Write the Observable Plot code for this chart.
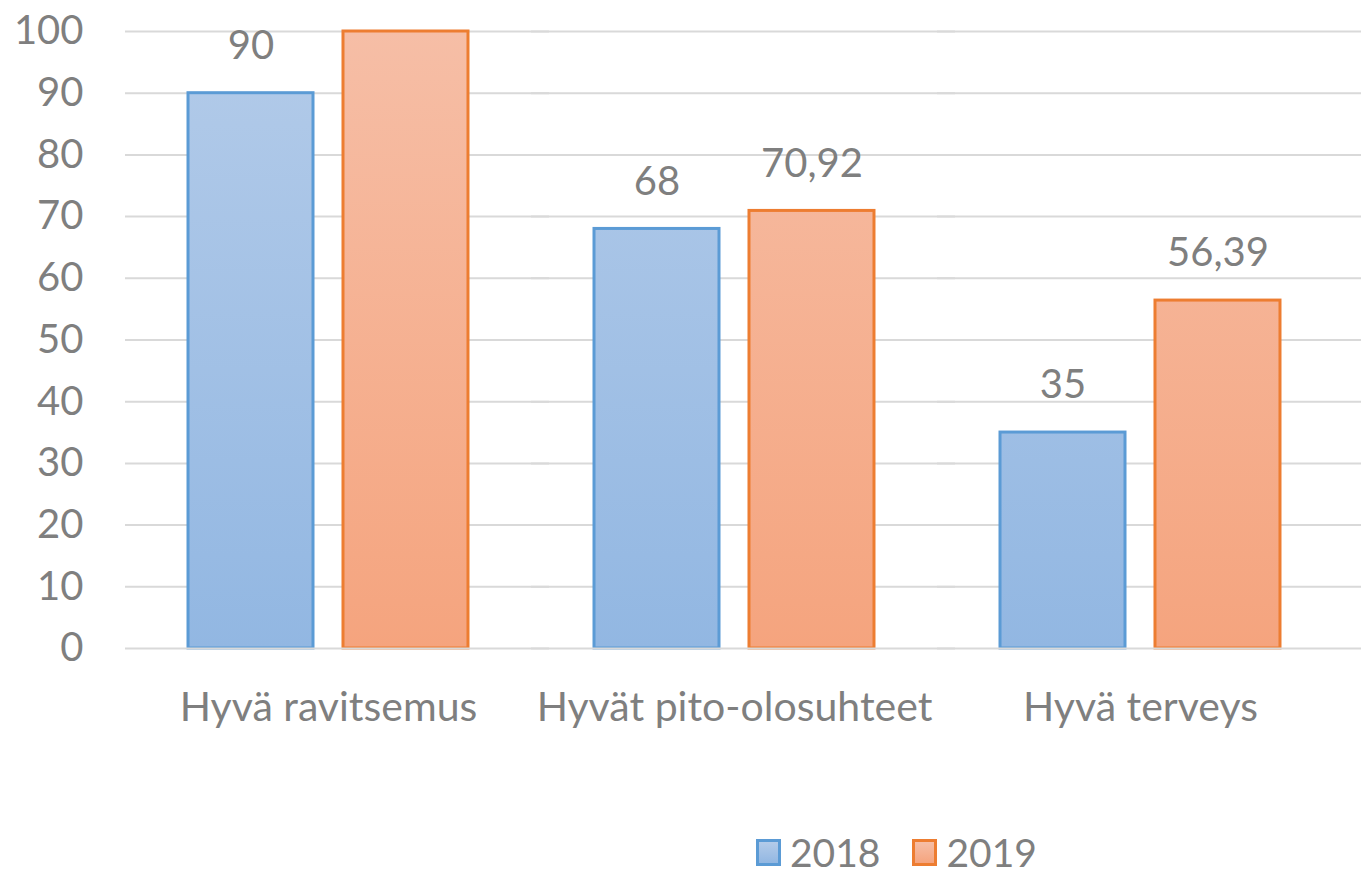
<!DOCTYPE html>
<html>
<head>
<meta charset="utf-8">
<script src="https://cdn.jsdelivr.net/npm/d3@7"></script>
<script src="https://cdn.jsdelivr.net/npm/@observablehq/plot@0.6"></script>
<style>
  html, body { margin: 0; padding: 0; background: white; }
  #wrap { position: relative; width: 1365px; height: 880px; overflow: hidden; }
  #legend { position: absolute; left: 756px; top: 832px; display: flex; align-items: center;
    font-family: Lato, "Open Sans", sans-serif; font-size: 39px; color: #7f7f7f; line-height: 40px; height: 40px; }
  .sw { width: 19px; height: 21px; border: 3px solid; margin-right: 9px; }
  .item { display: flex; align-items: center; margin-right: 32px; }
</style>
</head>
<body>
<div id="wrap"></div>
<script>
const categories = ["Hyvä ravitsemus", "Hyvät pito-olosuhteet", "Hyvä terveys"];
const years = ["2018", "2019"];
const values2018 = [90, 68, 35];
const values2019 = [100, 70.92, 56.39];
const yTicks = [0, 10, 20, 30, 40, 50, 60, 70, 80, 90, 100];

const colors = {
  "2018": {stroke: "#5b9bd5", top: "#b3cbe9", bottom: "#92b7e2"},
  "2019": {stroke: "#ed7d31", top: "#f6bea6", bottom: "#f5a47e"}
};

const data = [];
categories.forEach((c, i) => {
  data.push({category: c, year: "2018", value: values2018[i]});
  data.push({category: c, year: "2019", value: values2019[i]});
});

const fmt = v => String(v).replace(".", ",");

const defs = () => {
  const d = d3.create("svg:defs");
  years.forEach(y => {
    const g = d.append("linearGradient").attr("id", "g" + y)
      .attr("x1", 0).attr("x2", 0)
      .attr("gradientUnits", "userSpaceOnUse")
      .attr("y1", 31).attr("y2", 648);
    g.append("stop").attr("offset", "0%").attr("stop-color", colors[y].top);
    g.append("stop").attr("offset", "100%").attr("stop-color", colors[y].bottom);
  });
  return d.node();
};

// In the source chart the label of the bar at the top of the axis is clipped away
const yMax = yTicks[yTicks.length - 1];

const chart = Plot.plot({
  width: 1365,
  height: 820,
  marginLeft: 124,
  marginRight: 21,
  marginTop: 31,
  marginBottom: 172,
  style: {fontFamily: "Lato, 'Open Sans', sans-serif", fontSize: "41px", color: "#7f7f7f", overflow: "hidden", background: "white"},
  fx: {domain: categories, padding: 0, axis: "bottom", tickSize: 0, tickPadding: 43, label: null},
  x: {domain: years, axis: null, paddingInner: 0.1935, paddingOuter: 0.4065, round: false},
  y: {domain: [0, yMax], axis: null},
  marks: [
    defs,
    Plot.ruleY(yTicks.filter(t => t > 0), {stroke: "#d9d9d9", strokeWidth: 2, insetRight: -18}),
    Plot.axisY({ticks: yTicks, tickSize: 0, tickPadding: 42, textAnchor: "end", fontSize: 40, fill: "#7f7f7f", label: null, facetAnchor: "left"}),
    ...years.map(y => Plot.barY(data.filter(d => d.year === y), {
      fx: "category", x: "year", y: "value",
      fill: `url(#g${y})`, stroke: colors[y].stroke, strokeWidth: 3
    })),
    Plot.ruleY([0], {stroke: "#d9d9d9", strokeWidth: 2, insetRight: -18}),
    Plot.text(data.filter(d => d.value < yMax), {fx: "category", x: "year", y: "value", text: d => fmt(d.value), dy: -47, fill: "#7f7f7f", fontSize: 40})
  ]
});

const wrap = document.getElementById("wrap");
wrap.appendChild(chart);

const legend = document.createElement("div");
legend.id = "legend";
years.forEach(y => {
  const it = document.createElement("div");
  it.className = "item";
  const sw = document.createElement("div");
  sw.className = "sw";
  sw.style.borderColor = colors[y].stroke;
  sw.style.background = `linear-gradient(${colors[y].top}, ${colors[y].bottom})`;
  const t = document.createElement("span");
  t.textContent = y;
  it.appendChild(sw); it.appendChild(t);
  legend.appendChild(it);
});
wrap.appendChild(legend);
</script>
</body>
</html>
